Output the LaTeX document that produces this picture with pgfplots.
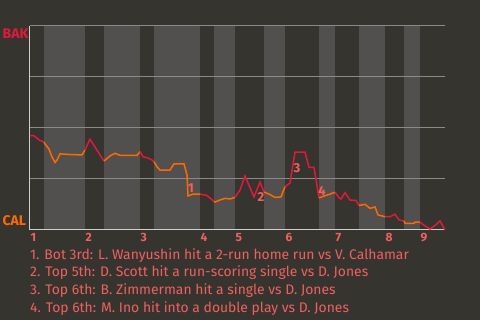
\documentclass[border=0pt]{standalone}
\usepackage{fontspec}
\setmainfont{Fira Sans}
\usepackage{pgfplots}
\pgfplotsset{compat=1.18}
\definecolor{bg}{HTML}{36342F}
\definecolor{band}{HTML}{51504E}
\definecolor{gridc}{HTML}{8A8A88}
\definecolor{axc}{HTML}{CFCFCD}
\definecolor{redl}{HTML}{E2183C}
\definecolor{orl}{HTML}{FF6A00}
\definecolor{txt}{HTML}{F0605F}
\begin{document}
\begin{tikzpicture}[x=1pt,y=1pt]
\fill[bg] (0pt,0pt) rectangle (480pt,320pt);
\begin{axis}[at={(30pt,90pt)}, anchor=south west, scale only axis,
  width=415pt, height=204pt, xmin=0, xmax=415, ymin=0, ymax=100,
  hide axis, clip=false]
% bottom-half innings (light bands)
\fill[band] (axis cs:14,0) rectangle (axis cs:55,100);
\fill[band] (axis cs:74,0) rectangle (axis cs:110,100);
\fill[band] (axis cs:124,0) rectangle (axis cs:170,100);
\fill[band] (axis cs:184,0) rectangle (axis cs:205,100);
\fill[band] (axis cs:234,0) rectangle (axis cs:255,100);
\fill[band] (axis cs:289,0) rectangle (axis cs:305,100);
\fill[band] (axis cs:329,0) rectangle (axis cs:355,100);
\fill[band] (axis cs:374,0) rectangle (axis cs:390,100);
\draw[gridc, line width=1pt] (axis cs:0,25) -- (axis cs:415,25);
\draw[gridc, line width=1pt] (axis cs:0,50) -- (axis cs:415,50);
\draw[gridc, line width=1pt] (axis cs:0,75) -- (axis cs:415,75);
\draw[gridc, line width=1pt] (axis cs:0,100) -- (axis cs:415,100);
\draw[axc, line width=1pt] (axis cs:0,0) -- (axis cs:415,0);
\draw[axc, line width=1pt] (axis cs:0,0) -- (axis cs:0,100);
\addplot[redl, line width=1.5pt] coordinates {(0,46.2) (4,46.2) (10,43.8) (12,43.6) (14,43.1)};
\addplot[orl, line width=1.5pt] coordinates {(14,43.1) (15,42.2) (19,39.7) (22,35.8) (25,33.1) (27,34.3) (30,37.3) (40,37.0) (52,36.8) (55,39.2)};
\addplot[redl, line width=1.5pt] coordinates {(55,39.2) (60,44.5) (65,40.7) (70,36.8) (74,33.8)};
\addplot[orl, line width=1.5pt] coordinates {(74,33.8) (80,36.3) (85,37.6) (90,36.6) (107,36.6) (110,38.4)};
\addplot[redl, line width=1.5pt] coordinates {(110,38.4) (113,35.9) (118,35.3) (122,34.3) (124,33.5)};
\addplot[orl, line width=1.5pt] coordinates {(124,33.5) (127,31.0) (130,29.4) (140,29.4) (144,32.4) (154,32.4) (157,27.0) (158,16.7) (163,17.6) (170,17.6)};
\addplot[redl, line width=1.5pt] coordinates {(170,17.6) (177,16.9) (184,14.0)};
\addplot[orl, line width=1.5pt] coordinates {(184,14.0) (185,13.7) (190,14.7) (195,15.5) (200,15.2) (205,16.0)};
\addplot[redl, line width=1.5pt] coordinates {(205,16.0) (210,19.6) (215,26.5) (224,16.2) (230,23.5) (234,18.6)};
\addplot[orl, line width=1.5pt] coordinates {(234,18.6) (239,17.6) (245,16.0) (251,16.2) (255,21.2)};
\addplot[redl, line width=1.5pt] coordinates {(255,21.2) (260,23.0) (265,38.2) (275,38.2) (279,30.7) (284,30.7) (289,15.7)};
\addplot[orl, line width=1.5pt] coordinates {(289,15.7) (295,16.8) (300,17.6) (305,18.5)};
\addplot[redl, line width=1.5pt] coordinates {(305,18.5) (309,15.8) (311,15.2) (315,18.3) (320,14.7) (326,14.5) (329,12.0)};
\addplot[orl, line width=1.5pt] coordinates {(329,12.0) (335,12.6) (340,10.6) (345,11.3) (348,7.4) (355,6.5)};
\addplot[redl, line width=1.5pt] coordinates {(355,6.5) (360,6.5) (365,7.7) (369,5.0) (374,4.4)};
\addplot[orl, line width=1.5pt] coordinates {(374,4.4) (375,3.3) (384,3.3) (385,3.8) (390,3.8)};
\addplot[redl, line width=1.5pt] coordinates {(390,3.8) (395,2.0) (400,0.5) (405,2.2) (410,4.4) (415,0)};
\node[txt, font=\fontsize{13}{13}\selectfont\bfseries, inner sep=0pt] at (axis cs:161,20.6) {1};
\node[txt, font=\fontsize{13}{13}\selectfont\bfseries, inner sep=0pt] at (axis cs:231,16.2) {2};
\node[txt, font=\fontsize{13}{13}\selectfont\bfseries, inner sep=0pt] at (axis cs:267,30.4) {3};
\node[txt, font=\fontsize{13}{13}\selectfont\bfseries, inner sep=0pt] at (axis cs:292,19.1) {4};
\end{axis}
\begin{scope}[every node/.style={txt, font=\fontsize{12}{12}\selectfont\bfseries, inner sep=0pt, anchor=base west}]
\node at (30.5pt,78pt) {1};
\node at (85.5pt,78pt) {2};
\node at (140.5pt,78pt) {3};
\node at (200.5pt,78pt) {4};
\node at (235.5pt,78pt) {5};
\node at (285.5pt,78pt) {6};
\node at (335.5pt,78pt) {7};
\node at (385.5pt,78pt) {8};
\node at (420.5pt,78pt) {9};
\end{scope}
\node[redl, font=\fontsize{14}{14}\selectfont\bfseries, inner sep=0pt, anchor=base west] at (2.5pt,281.7pt) {BAK};
\node[orl, font=\fontsize{14}{14}\selectfont\bfseries, inner sep=0pt, anchor=base west] at (2.3pt,94pt) {CAL};
\begin{scope}[every node/.style={txt, font=\fontsize{13.9}{16}\selectfont, inner sep=0pt, anchor=base west}]
\node at (30pt,60.5pt) {1. Bot 3rd: L. Wanyushin hit a 2-run home run vs V. Calhamar};
\node at (30pt,43.0pt) {2. Top 5th: D. Scott hit a run-scoring single vs D. Jones};
\node at (30pt,25.2pt) {3. Top 6th: B. Zimmerman hit a single vs D. Jones};
\node at (30pt,7.5pt) {4. Top 6th: M. Ino hit into a double play vs D. Jones};
\end{scope}
\end{tikzpicture}
\end{document}
